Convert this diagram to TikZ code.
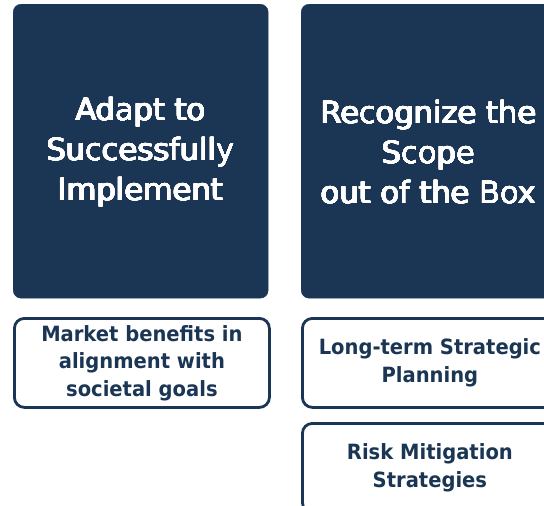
\documentclass[tikz,border=0pt]{standalone}
\usepackage{fontspec}
\usepackage{contour}
\contourlength{0.35pt}
\contournumber{16}
\setmainfont{DejaVu Sans}
\newfontfamily\smallfont[FakeStretch=0.93]{DejaVu Sans Bold}
\definecolor{navy}{RGB}{26,54,84}
\newcommand\heavyline[1]{\contour{white}{#1}}
\begin{document}
\begin{tikzpicture}[x=1pt,y=-1pt,
  darkbox/.style={fill=navy,draw=navy,rounded corners=8pt,minimum width=255pt,minimum height=294pt,anchor=north west,inner sep=0pt},
  lightbox/.style={fill=white,draw=navy,line width=2.8pt,rounded corners=10pt,minimum width=255pt,minimum height=89pt,anchor=north west,inner sep=0pt},
  bigtext/.style={text=white,font=\fontsize{30.5}{40}\selectfont,align=center},
  smalltext/.style={text=navy,font=\smallfont\fontsize{21}{27.5}\selectfont,align=center}]
\useasboundingbox (0,0) rectangle (544,506);
\clip (0,0) rectangle (544,506);
\node[darkbox] (a) at (13,4) {};
\node[bigtext] (at) at ([yshift=-1pt]a.center) {\heavyline{Adapt to}\\\heavyline{Successfully}\\\heavyline{Implement}};
\node[darkbox] (b) at (301,4) {};
\node[bigtext] (bt) at ([yshift=-1pt]b.center) {\heavyline{Recognize the}\\\heavyline{Scope}\\\heavyline{out of the Box}};
\node[lightbox] (c) at (13,317) {};
\node[smalltext] (ct) at (c.center) {Market benefits in\\alignment with\\societal goals};
\node[lightbox] (d) at (301,317) {};
\node[smalltext] (dt) at (d.center) {Long-term Strategic\\Planning};
\node[lightbox] (e) at (301,422) {};
\node[smalltext] (et) at (e.center) {Risk Mitigation\\Strategies};
\end{tikzpicture}
\end{document}
